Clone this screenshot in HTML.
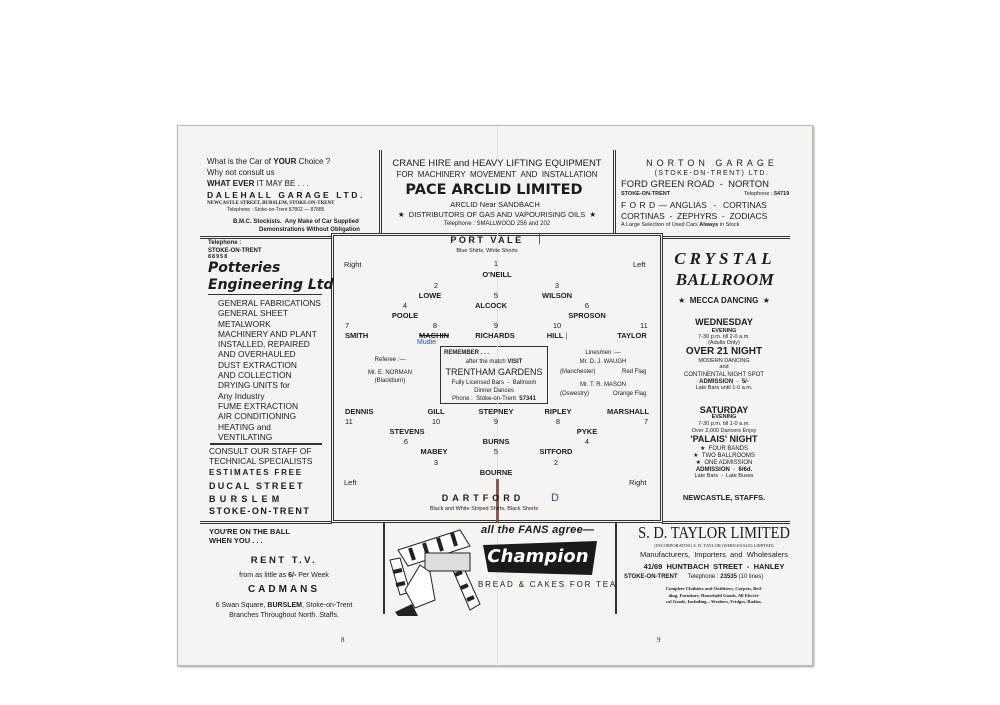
<!DOCTYPE html>
<html><head><meta charset="utf-8"><style>
*{margin:0;padding:0;box-sizing:border-box}
body{width:1000px;height:705px;background:#fff;position:relative;overflow:hidden;font-family:"Liberation Sans",sans-serif;color:#1c1c1c}
.paper{position:absolute;left:177px;top:125px;width:636px;height:541px;background:#f5f4f1;border:1px solid #bdbab5;box-shadow:1px 1px 2px #999}
.t{position:absolute;white-space:nowrap;line-height:1}
.c{transform:translateX(-50%)}
.b{font-weight:bold}
.h{position:absolute;height:0;border-top:1px solid #333}
.v{position:absolute;width:0;border-left:1px solid #333}
</style></head><body>
<div class="paper"></div>
<div class="h" style="left:200px;top:236px;width:132px;border-top:3px double #333"></div>
<div class="h" style="left:662px;top:236px;width:128px;border-top:3px double #333"></div>
<div class="v" style="left:379px;top:150px;height:84px;border-left:3px double #333"></div>
<div class="v" style="left:613px;top:150px;height:84px;border-left:3px double #333"></div>
<div style="position:absolute;left:331px;top:233px;width:332px;height:290px;border:3px double #333"></div>
<div class="h" style="left:200px;top:521px;width:132px;border-top:3px double #333"></div>
<div class="h" style="left:662px;top:521px;width:128px;border-top:3px double #333"></div>
<div class="v" style="left:383px;top:522px;height:92px;border-left:2px solid #333"></div>
<div class="v" style="left:615px;top:522px;height:92px;border-left:2px solid #333"></div>
<div class="h" style="left:210px;top:443px;width:112px;border-top:2px solid #333"></div>
<div class="h" style="left:208px;top:294px;width:114px;border-top:1.5px solid #333"></div>
<div style="position:absolute;left:440px;top:346px;width:108px;height:58px;border:1.5px solid #333;background:#f5f4f1"></div>
<div class="v" style="left:497px;top:126px;height:540px;border-left:1px solid #e6e4e0"></div>

<div class="t" style="left:207px;top:158px;font-size:8px">What is the Car of <b>YOUR</b> Choice ?</div>
<div class="t" style="left:207px;top:169px;font-size:8px">Why not consult us</div>
<div class="t" style="left:207px;top:180px;font-size:8px"><b>WHAT EVER</b> IT MAY BE . . .</div>
<div class="t b" style="left:207px;top:191px;font-size:8.5px;letter-spacing:2.6px">DALEHALL GARAGE LTD.</div>
<div class="t b" style="left:207px;top:201px;font-size:5px;font-family:'Liberation Serif',serif">NEWCASTLE STREET, BURSLEM, STOKE-ON-TRENT</div>
<div class="t" style="left:227px;top:208px;font-size:5px">Telephone : Stoke-on-Trent 87802 — 87885</div>
<div class="t b" style="left:233px;top:219px;font-size:6px">B.M.C. Stockists.&nbsp; Any Make of Car Supplied</div>
<div class="t b" style="left:259px;top:227px;font-size:6px">Demonstrations Without Obligation</div>

<div class="t c" style="left:497px;top:159px;font-size:9.5px">CRANE HIRE and HEAVY LIFTING EQUIPMENT</div>
<div class="t c" style="left:497px;top:171px;font-size:8px">FOR &nbsp;MACHINERY &nbsp;MOVEMENT &nbsp;AND &nbsp;INSTALLATION</div>
<div class="t c b" style="left:494px;top:183px;font-size:14.5px;font-family:'DejaVu Sans',sans-serif">PACE ARCLID LIMITED</div>
<div class="t c" style="left:495px;top:201px;font-size:7.5px">ARCLID Near SANDBACH</div>
<div class="t c" style="left:497px;top:211px;font-size:7.5px">★ &nbsp;DISTRIBUTORS OF GAS AND VAPOURISING OILS &nbsp;★</div>
<div class="t c" style="left:497px;top:221px;font-size:6px">Telephone : SMALLWOOD 256 and 202</div>

<div class="t c" style="left:712px;top:159px;font-size:9px;letter-spacing:4px">NORTON GARAGE</div>
<div class="t c" style="left:712px;top:170px;font-size:7px;letter-spacing:1.5px">(STOKE-ON-TRENT) LTD.</div>
<div class="t" style="left:621px;top:180px;font-size:9.5px">FORD GREEN ROAD &nbsp;- &nbsp;NORTON</div>
<div class="t b" style="left:621px;top:192px;font-size:5.5px">STOKE-ON-TRENT</div>
<div class="t" style="left:744px;top:192px;font-size:5.5px">Telephone : <b>54719</b></div>
<div class="t" style="left:621px;top:201px;font-size:8.5px;word-spacing:1px">F O R D — ANGLIAS &nbsp;- &nbsp;CORTINAS</div>
<div class="t" style="left:621px;top:212px;font-size:8.5px">CORTINAS &nbsp;- &nbsp;ZEPHYRS &nbsp;- &nbsp;ZODIACS</div>
<div class="t" style="left:621px;top:223px;font-size:5.5px">A Large Selection of Used Cars <b>Always</b> in Stock</div>

<div class="t b" style="left:208px;top:240px;font-size:6px">Telephone :</div>
<div class="t b" style="left:208px;top:248px;font-size:6px">STOKE-ON-TRENT</div>
<div class="t b" style="left:208px;top:255px;font-size:5.5px;letter-spacing:1px">88958</div>
<div class="t b" style="left:208px;top:261px;font-size:14px;font-style:italic;font-family:'DejaVu Sans',sans-serif">Potteries</div>
<div class="t b" style="left:208px;top:278px;font-size:14px;font-style:italic;font-family:'DejaVu Sans',sans-serif">Engineering Ltd</div>
<div class="t" style="left:218px;top:298px;font-size:8.4px;line-height:10.3px">GENERAL FABRICATIONS<br>GENERAL SHEET<br>METALWORK<br>MACHINERY AND PLANT<br>INSTALLED, REPAIRED<br>AND OVERHAULED<br>DUST EXTRACTION<br>AND COLLECTION<br>DRYING UNITS for<br>Any Industry<br>FUME EXTRACTION<br>AIR CONDITIONING<br>HEATING and<br>VENTILATING</div>
<div class="t" style="left:209px;top:446px;font-size:8.4px;line-height:10px">CONSULT OUR STAFF OF<br>TECHNICAL SPECIALISTS</div>
<div class="t b" style="left:209px;top:469px;font-size:8px;letter-spacing:1.8px">ESTIMATES FREE</div>
<div class="t b" style="left:209px;top:482px;font-size:9px;letter-spacing:2.2px">DUCAL STREET</div>
<div class="t b" style="left:209px;top:495px;font-size:9px;letter-spacing:4.3px">BURSLEM</div>
<div class="t b" style="left:209px;top:507px;font-size:9px;letter-spacing:1.5px">STOKE-ON-TRENT</div>

<div class="t c b" style="left:487px;top:236px;font-size:9px;letter-spacing:2.5px">PORT VALE</div>
<div class="t" style="left:538px;top:234px;font-size:11px;color:#2a4fa8">|</div>
<div class="t c" style="left:487px;top:249px;font-size:5.5px">Blue Shirts, White Shorts</div>
<div style="font-size:7.5px">
<div class="t" style="left:344px;top:261px">Right</div>
<div class="t" style="left:633px;top:261px">Left</div>
<div class="t c" style="left:496px;top:260px">1</div>
<div class="t c b" style="left:497px;top:271px">O'NEILL</div>
<div class="t c" style="left:436px;top:282px">2</div>
<div class="t c" style="left:557px;top:282px">3</div>
<div class="t c b" style="left:430px;top:292px">LOWE</div>
<div class="t c" style="left:496px;top:292px">5</div>
<div class="t c b" style="left:557px;top:292px">WILSON</div>
<div class="t c" style="left:405px;top:302px">4</div>
<div class="t c b" style="left:491px;top:302px">ALCOCK</div>
<div class="t c" style="left:587px;top:302px">6</div>
<div class="t c b" style="left:405px;top:312px">POOLE</div>
<div class="t c b" style="left:587px;top:312px">SPROSON</div>
<div class="t" style="left:345px;top:322px">7</div>
<div class="t c" style="left:435px;top:322px">8</div>
<div class="t c" style="left:496px;top:322px">9</div>
<div class="t c" style="left:557px;top:322px">10</div>
<div class="t" style="left:640px;top:322px">11</div>
<div class="t b" style="left:345px;top:332px">SMITH</div>
<div class="t c b" style="left:434px;top:332px;text-decoration:line-through">MACHIN</div>
<div class="t" style="left:417px;top:339px;font-size:7px;color:#2a4fa8">Mudie</div>
<div class="t c b" style="left:495px;top:332px">RICHARDS</div>
<div class="t c b" style="left:557px;top:332px">HILL <span style="color:#2a4fa8;font-weight:normal">|</span></div>
<div class="t c b" style="left:632px;top:332px">TAYLOR</div>
</div>
<div class="t c" style="left:390px;top:357px;font-size:6px">Referee :—</div>
<div class="t c" style="left:390px;top:370px;font-size:6px">Mr. E. NORMAN</div>
<div class="t c" style="left:390px;top:378px;font-size:6px">(Blackburn)</div>
<div class="t b" style="left:444px;top:350px;font-size:6px">REMEMBER . . .</div>
<div class="t c" style="left:494px;top:359px;font-size:6px">after the match <b>VISIT</b></div>
<div class="t c" style="left:494px;top:368px;font-size:9px">TRENTHAM GARDENS</div>
<div class="t c" style="left:494px;top:380px;font-size:6px">Fully Licensed Bars &nbsp;- &nbsp;Ballroom</div>
<div class="t c" style="left:494px;top:388px;font-size:6px">Dinner Dances</div>
<div class="t c" style="left:494px;top:396px;font-size:6px">Phone : &nbsp;Stoke-on-Trent &nbsp;<b>57341</b></div>
<div class="t c" style="left:603px;top:350px;font-size:6px">Linesmen :—</div>
<div class="t c" style="left:603px;top:359px;font-size:6px">Mr. D. J. WAUGH</div>
<div class="t" style="left:560px;top:369px;font-size:6px">(Manchester)</div>
<div class="t" style="left:622px;top:369px;font-size:6px">Red Flag</div>
<div class="t c" style="left:603px;top:382px;font-size:6px">Mr. T. R. MASON</div>
<div class="t" style="left:560px;top:391px;font-size:6px">(Oswestry)</div>
<div class="t" style="left:613px;top:391px;font-size:6px">Orange Flag</div>
<div style="font-size:7.5px">
<div class="t b" style="left:345px;top:408px">DENNIS</div>
<div class="t c b" style="left:436px;top:408px">GILL</div>
<div class="t c b" style="left:496px;top:408px">STEPNEY</div>
<div class="t c b" style="left:558px;top:408px">RIPLEY</div>
<div class="t b" style="left:607px;top:408px">MARSHALL</div>
<div class="t" style="left:345px;top:418px">11</div>
<div class="t c" style="left:436px;top:418px">10</div>
<div class="t c" style="left:496px;top:418px">9</div>
<div class="t c" style="left:558px;top:418px">8</div>
<div class="t" style="left:644px;top:418px">7</div>
<div class="t c b" style="left:407px;top:428px">STEVENS</div>
<div class="t c b" style="left:587px;top:428px">PYKE</div>
<div class="t c" style="left:406px;top:438px">6</div>
<div class="t c b" style="left:496px;top:438px">BURNS</div>
<div class="t c" style="left:587px;top:438px">4</div>
<div class="t c b" style="left:434px;top:448px">MABEY</div>
<div class="t c" style="left:496px;top:448px">5</div>
<div class="t c b" style="left:556px;top:448px">SITFORD</div>
<div class="t c" style="left:436px;top:459px">3</div>
<div class="t c" style="left:556px;top:459px">2</div>
<div class="t c b" style="left:496px;top:469px">BOURNE</div>
<div class="t" style="left:344px;top:479px">Left</div>
<div class="t" style="left:629px;top:479px">Right</div>
</div>
<div class="v" style="left:496px;top:479px;height:44px;border-left:3px solid #6b3a22;opacity:.8"></div>
<div class="t c b" style="left:483px;top:494px;font-size:9px;letter-spacing:4px">DARTFORD</div>
<div class="t" style="left:551px;top:493px;font-size:11px;color:#2a4fa8">D</div>
<div class="t c" style="left:484px;top:507px;font-size:5.5px">Black and White Striped Shirts, Black Shorts</div>

<div class="t c b" style="left:725px;top:250px;font-size:17px;font-style:italic;font-family:'Liberation Serif',serif;letter-spacing:4px">CRYSTAL</div>
<div class="t c b" style="left:725px;top:271px;font-size:17px;font-style:italic;font-family:'Liberation Serif',serif;letter-spacing:.5px">BALLROOM</div>
<div class="t c" style="left:724px;top:297px;font-size:8px">★ &nbsp;<b>MECCA DANCING</b> &nbsp;★</div>
<div class="t c b" style="left:724px;top:318px;font-size:9px">WEDNESDAY</div>
<div class="t c b" style="left:724px;top:329px;font-size:5.5px">EVENING</div>
<div class="t c" style="left:724px;top:335px;font-size:5.5px">7-30 p.m. till 2-0 a.m.</div>
<div class="t c" style="left:724px;top:341px;font-size:5.5px">(Adults Only)</div>
<div class="t c b" style="left:724px;top:347px;font-size:10px">OVER 21 NIGHT</div>
<div class="t c" style="left:724px;top:359px;font-size:5.5px">MODERN DANCING</div>
<div class="t c" style="left:724px;top:365px;font-size:5.5px">and</div>
<div class="t c" style="left:724px;top:372px;font-size:6px">CONTINENTAL NIGHT SPOT</div>
<div class="t c" style="left:724px;top:379px;font-size:6px"><b>ADMISSION</b> &nbsp;- &nbsp;<b>5/-</b></div>
<div class="t c" style="left:724px;top:386px;font-size:5.5px">Late Bars until 1-0 a.m.</div>
<div class="t c b" style="left:724px;top:406px;font-size:9px">SATURDAY</div>
<div class="t c b" style="left:724px;top:415px;font-size:5.5px">EVENING</div>
<div class="t c" style="left:724px;top:422px;font-size:5.5px">7-30 p.m. till 1-0 a.m.</div>
<div class="t c" style="left:724px;top:429px;font-size:5.5px">Over 2,000 Dancers Enjoy</div>
<div class="t c b" style="left:724px;top:435px;font-size:9px">'PALAIS' NIGHT</div>
<div class="t c" style="left:724px;top:446px;font-size:6px">★ &nbsp;FOUR BANDS</div>
<div class="t c" style="left:724px;top:453px;font-size:6px">★ &nbsp;TWO BALLROOMS</div>
<div class="t c" style="left:724px;top:460px;font-size:6px">★ &nbsp;ONE ADMISSION</div>
<div class="t c" style="left:724px;top:467px;font-size:6px"><b>ADMISSION</b> &nbsp;- &nbsp;<b>6/6d.</b></div>
<div class="t c" style="left:724px;top:474px;font-size:5.5px">Late Bars &nbsp;- &nbsp;Late Buses</div>
<div class="t c b" style="left:724px;top:494px;font-size:7.5px">NEWCASTLE, STAFFS.</div>

<div class="t b" style="left:209px;top:528px;font-size:7.5px">YOU'RE ON THE BALL</div>
<div class="t b" style="left:209px;top:537px;font-size:7.5px">WHEN YOU . . .</div>
<div class="t c b" style="left:284px;top:556px;font-size:9.5px;letter-spacing:2.5px">RENT T.V.</div>
<div class="t c" style="left:284px;top:572px;font-size:7px">from as little as <b>6/-</b> Per Week</div>
<div class="t c b" style="left:284px;top:585px;font-size:10px;letter-spacing:3px">CADMANS</div>
<div class="t c" style="left:284px;top:602px;font-size:7px">6 Swan Square, <b>BURSLEM</b>, Stoke-on-Trent</div>
<div class="t c" style="left:284px;top:612px;font-size:7px">Branches Throughout North. Staffs.</div>

<svg style="position:absolute;left:384px;top:522px" width="230" height="95" viewBox="384 522 230 95">
 <path d="M398 550 L460 530 L470 546 L408 566 Z" fill="#fff" stroke="#222"/>
 <g stroke="#222" stroke-width="4"><line x1="410" y1="548" x2="414" y2="560"/><line x1="424" y1="543" x2="428" y2="556"/><line x1="438" y1="538" x2="442" y2="551"/><line x1="452" y1="533" x2="456" y2="546"/></g>
 <path d="M390 560 L400 595 L410 592 L400 558 Z" fill="#fff" stroke="#222"/>
 <path d="M452 568 L470 610 L480 604 L462 564 Z" fill="#fff" stroke="#222"/>
 <g stroke="#222" stroke-width="4"><line x1="455" y1="575" x2="462" y2="572"/><line x1="461" y1="588" x2="468" y2="585"/><line x1="467" y1="600" x2="474" y2="597"/><line x1="393" y1="572" x2="402" y2="570"/><line x1="396" y1="585" x2="405" y2="583"/></g>
 <rect x="425" y="553" width="45" height="18" fill="#ddd" stroke="#222"/>
 <path d="M420 565 L430 572 L435 600 L415 608 L405 590 Z" fill="#fff" stroke="#222"/>
 <path d="M395 612 L412 604 L418 616 L398 616 Z" fill="#222"/>
 <path d="M483 545 L597 541 L592 575 L488 572 Z" fill="#1a1a1a"/>
</svg>
<div class="t b" style="left:481px;top:525px;font-size:11px;font-style:italic;letter-spacing:.3px">all the FANS agree—</div>
<div class="t c b" style="left:538px;top:548px;font-size:18px;font-style:italic;color:#fff;font-family:'DejaVu Sans',sans-serif">Champion</div>
<div class="t" style="left:478px;top:581px;font-size:8px;letter-spacing:1.8px">BREAD &amp; CAKES FOR TEA</div>

<div class="t c" style="left:714px;top:524px;font-size:17px;font-family:'Liberation Serif',serif;transform:translateX(-50%) scaleX(.85)">S. D. TAYLOR LIMITED</div>
<div class="t c" style="left:714px;top:544px;font-size:4.5px;font-family:'Liberation Serif',serif">(INCORPORATING S. D. TAYLOR (WHOLESALE) LIMITED)</div>
<div class="t c" style="left:714px;top:551px;font-size:7.5px">Manufacturers, &nbsp;Importers &nbsp;and &nbsp;Wholesalers</div>
<div class="t c b" style="left:714px;top:563px;font-size:7.5px">41/69 &nbsp;HUNTBACH &nbsp;STREET &nbsp;- &nbsp;HANLEY</div>
<div class="t" style="left:624px;top:574px;font-size:6px"><b>STOKE-ON-TRENT</b> &nbsp;&nbsp;&nbsp;&nbsp;&nbsp;Telephone : <b>23535</b> (10 lines)</div>
<div class="t c b" style="left:714px;top:586px;font-size:4.6px;font-family:'Liberation Serif',serif;line-height:6.5px;text-align:center">Complete Clothiers and Outfitters, Carpets, Bed-<br>ding, Furniture, Household Goods, All Electri-<br>cal Goods, Including—Washers, Fridges, Radios.</div>

<div class="t" style="left:341px;top:637px;font-size:7px;font-family:'Liberation Serif',serif">8</div>
<div class="t" style="left:657px;top:637px;font-size:7px;font-family:'Liberation Serif',serif">9</div>
</body></html>
